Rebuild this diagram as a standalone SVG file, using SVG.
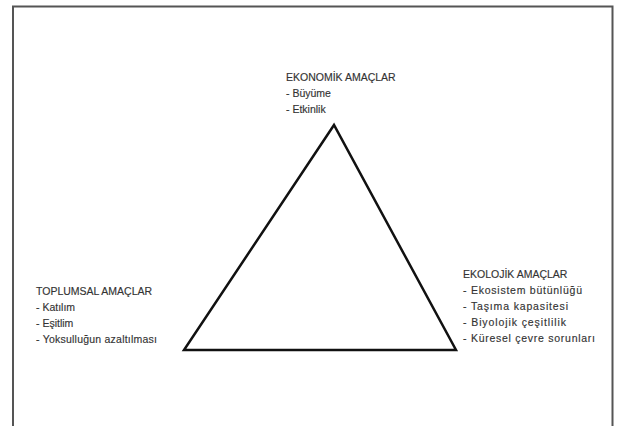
<svg xmlns="http://www.w3.org/2000/svg" width="617" height="426" viewBox="0 0 617 426">
<style>
.t{font-family:"Liberation Sans",Arial,sans-serif;font-size:10.5px;fill:#333;stroke:#333;stroke-width:0.15}
.frame{fill:none;stroke:#555;stroke-width:2}
.tri{fill:none;stroke:#111;stroke-width:2.5;stroke-linejoin:miter}
</style>
<rect width="617" height="426" fill="#fff"/>
<path class="frame" d="M13,430 V6.5 H612.5 V430"/>
<g id="connectors">
<polygon class="tri" points="334,125 184,350 456,350"/>
</g>
<g id="ekonomik">
<text class="t" x="286" y="81">EKONOMİK AMAÇLAR</text>
<text class="t" x="286" y="97">- Büyüme</text>
<text class="t" x="286" y="113">- Etkinlik</text>
</g>
<g id="toplumsal">
<text class="t" x="36" y="295">TOPLUMSAL AMAÇLAR</text>
<text class="t" x="36" y="311">- Katılım</text>
<text class="t" x="36" y="327">- Eşitlim</text>
<text class="t" x="36" y="343" textLength="121" lengthAdjust="spacing">- Yoksulluğun azaltılması</text>
</g>
<g id="ekolojik">
<text class="t" x="463" y="278">EKOLOJİK AMAÇLAR</text>
<text class="t" x="463" y="294" textLength="119" lengthAdjust="spacing">- Ekosistem bütünlüğü</text>
<text class="t" x="463" y="310" textLength="105" lengthAdjust="spacing">- Taşıma kapasitesi</text>
<text class="t" x="463" y="326" textLength="103" lengthAdjust="spacing">- Biyolojik çeşitlilik</text>
<text class="t" x="463" y="342" textLength="132" lengthAdjust="spacing">- Küresel çevre sorunları</text>
</g>
</svg>
